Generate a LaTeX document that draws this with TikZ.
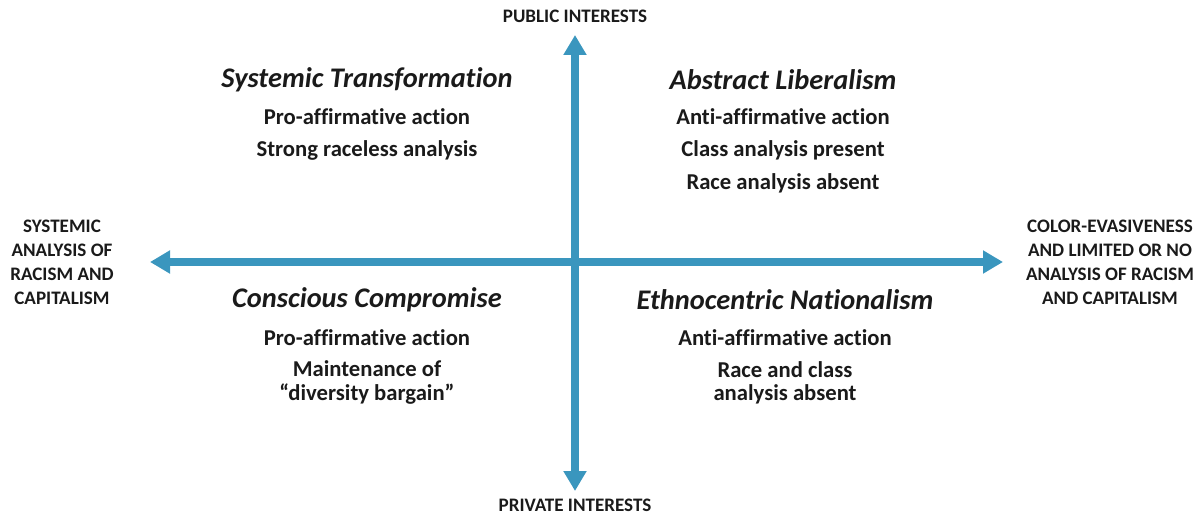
\documentclass[tikz,border=0pt]{standalone}
\usepackage{fontspec}
\setmainfont{Carlito}[Ligatures=CommonOff]
\usetikzlibrary{arrows.meta}
\definecolor{axisblue}{HTML}{3A96BE}
\definecolor{ink}{HTML}{1A1A1A}
\begin{document}
\begin{tikzpicture}[x=0.75pt,y=-0.75pt,
  axis/.style={draw=axisblue,line width=6pt,
    -{Triangle[length=15pt,width=16.5pt]}},
  title/.style={font=\bfseries\itshape\fontsize{21.3}{24}\selectfont,text=ink,inner sep=0pt},
  body/.style={font=\bfseries\fontsize{17}{17.5}\selectfont,text=ink,inner sep=0pt,align=center},
  pole/.style={font=\bfseries\fontsize{14.3}{18}\selectfont,text=ink,inner sep=0pt,align=center}]
\useasboundingbox (0,0) rectangle (1204,517);

% axes
\coordinate (c) at (575,262);
\coordinate (top) at (575,35);
\coordinate (bot) at (575,491);
\coordinate (lft) at (150,262);
\coordinate (rgt) at (1003,262);
\draw[axis] (c) -- (top);
\draw[axis] (c) -- (bot);
\draw[axis] (c) -- (lft);
\draw[axis] (c) -- (rgt);

% pole labels
\node[pole] (pub) at (575,16) {PUBLIC INTERESTS};
\node[pole] (priv) at (575,505) {PRIVATE INTERESTS};
\node[pole] (west) at (62,262) {SYSTEMIC\\ANALYSIS OF\\RACISM AND\\CAPITALISM};
\node[pole] (east) at (1110,262) {COLOR-EVASIVENESS\\AND LIMITED OR NO\\ANALYSIS OF RACISM\\AND CAPITALISM};

% upper left quadrant
\node[title] (st) at (367,80) {Systemic Transformation};
\node[body] (st1) at (367,117) {Pro-affirmative action};
\node[body] (st2) at (367,150) {Strong raceless analysis};

% upper right quadrant
\node[title] (al) at (783,80) {Abstract Liberalism};
\node[body] (al1) at (783,117) {Anti-affirmative action};
\node[body] (al2) at (783,150) {Class analysis present};
\node[body] (al3) at (783,183) {Race analysis absent};

% lower left quadrant
\node[title] (cc) at (367,300) {Conscious Compromise};
\node[body] (cc1) at (367,338) {Pro-affirmative action};
\node[body] (cc2) at (367,382.5) {Maintenance of\\“diversity bargain”};

% lower right quadrant
\node[title] (en) at (785,300) {Ethnocentric Nationalism};
\node[body] (en1) at (785,338) {Anti-affirmative action};
\node[body] (en2) at (785,382.5) {Race and class\\analysis absent};
\end{tikzpicture}
\end{document}
